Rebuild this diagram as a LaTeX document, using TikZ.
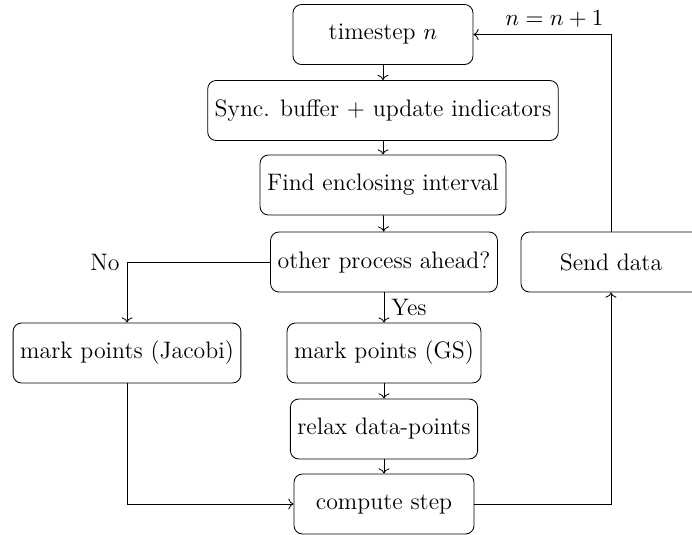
\documentclass[tikz,border=0pt]{standalone}
\usetikzlibrary{arrows.meta}
\begin{document}
\begin{tikzpicture}[x=0.4742pt,y=-0.4742pt,
  every node/.style={font=\fontsize{11.3}{13.8}\selectfont},
  box/.style={draw,rounded corners,minimum width=3cm,minimum height=1cm,align=center},
  conn/.style={->}]
\useasboundingbox (0,0) rectangle (692,534);
\node[box] (ts) at (383,34.5) {timestep $n$};
\node[box] (sync) at (383,110.5) {Sync. buffer + update indicators};
\node[box] (find) at (383,185) {Find enclosing interval};
\node[box] (other) at (384,262) {other process ahead?};
\node[box] (gs) at (384,353) {mark points (GS)};
\node[box] (relax) at (384,429) {relax data-points};
\node[box] (comp) at (384,504) {compute step};
\node[box] (jac) at (127,353) {mark points (Jacobi)};
\node[box] (send) at (611,262) {Send data};
\draw[conn] (ts) -- (sync);
\draw[conn] (sync) -- (find);
\draw[conn] (find) -- (other);
\draw[conn] (other) -- node[right]{Yes} (gs);
\draw[conn] (other) -| node[pos=0.5,left]{No} (jac);
\draw[conn] (gs) -- (relax);
\draw[conn] (relax) -- (comp);
\draw[conn] (jac) |- (comp);
\draw[conn] (comp) -| (send);
\draw[conn] (send) |- node[pos=0.5,above left]{$n=n+1$} (ts);
\end{tikzpicture}
\end{document}
